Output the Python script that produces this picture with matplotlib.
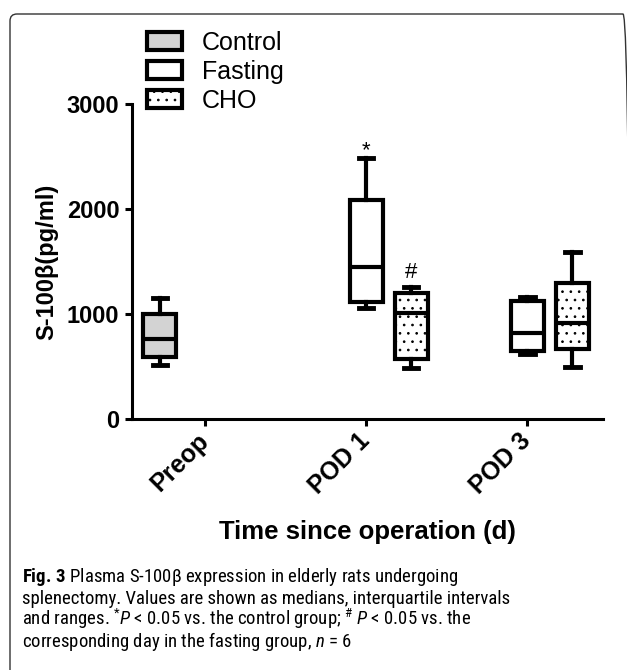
import matplotlib
matplotlib.use('Agg')
import matplotlib.pyplot as plt
from matplotlib.patches import Patch, FancyBboxPatch
from matplotlib import font_manager

# time points on the x axis and treatment groups
timepoints = ['Preop', 'POD 1', 'POD 3']
groups = ['Control', 'Fasting', 'CHO']

# one entry per drawn box (pg/ml)
box_group = ['Control', 'Fasting', 'CHO', 'Fasting', 'CHO']
box_time = [0, 1, 1, 2, 2]
whis_lo = [510, 1055, 485, 615, 495]
q1 = [590, 1110, 570, 645, 665]
med = [760, 1445, 1005, 820, 910]
q3 = [1000, 2090, 1200, 1125, 1300]
whis_hi = [1155, 2490, 1255, 1165, 1590]

# significance marks above boxes
sig_box = [1, 2]
sig_mark = ['*', '#']

caption = [
    r"$\mathbf{Fig.\,3}$ Plasma S-100β expression in elderly rats undergoing",
    "splenectomy. Values are shown as medians, interquartile intervals",
    r"and ranges. $^{*}\mathit{P}$ < 0.05 vs. the control group; $^{\#}$ $\mathit{P}$ < 0.05 vs. the",
    r"corresponding day in the fasting group, $\mathit{n}$ = 6",
]

fill = {'Control': '#d3d3d3', 'Fasting': 'white', 'CHO': 'white'}
hatch = {'Control': None, 'Fasting': None, 'CHO': '..'}
offset = {'Control': -0.28, 'Fasting': 0.0, 'CHO': 0.28}

installed = {f.name for f in font_manager.fontManager.ttflist}
cap_font = next((n for n in ['Liberation Sans Narrow', 'Roboto Condensed', 'Lato'] if n in installed), 'DejaVu Sans')

plt.rcParams['font.family'] = ['Liberation Sans', 'DejaVu Sans']
plt.rcParams['hatch.linewidth'] = 0.7
plt.rcParams['mathtext.fontset'] = 'custom'
plt.rcParams['mathtext.rm'] = cap_font
plt.rcParams['mathtext.it'] = cap_font + ':italic'
plt.rcParams['mathtext.bf'] = cap_font + ':bold'

W, H = 627, 670
fig = plt.figure(figsize=(W / 100, H / 100), dpi=100)
ax = fig.add_axes([132 / W, 1 - 419 / H, 471 / W, 315 / H])

lw = 3
stats = [dict(med=med[i], q1=q1[i], q3=q3[i], whislo=whis_lo[i], whishi=whis_hi[i])
         for i in range(len(med))]
pos = [box_time[i] + offset[box_group[i]] for i in range(len(med))]
bp = ax.bxp(stats, positions=pos, widths=0.205, capwidths=0.09, patch_artist=True,
            showfliers=False,
            boxprops=dict(linewidth=lw, edgecolor='black'),
            medianprops=dict(color='black', linewidth=lw),
            whiskerprops=dict(color='black', linewidth=lw),
            capprops=dict(color='black', linewidth=3.5))
for box, g in zip(bp['boxes'], box_group):
    box.set_facecolor(fill[g])
    if hatch[g]:
        box.set_hatch(hatch[g])

for bi, mark in zip(sig_box, sig_mark):
    dy = 1 if mark == '*' else 7
    ax.annotate(mark, (pos[bi], whis_hi[bi]), xytext=(0, dy), textcoords='offset points',
                ha='center', va='baseline', fontsize=16)

ax.set_xlim(-0.453, 2.47)
ax.set_ylim(0, 3000)
ax.set_yticks([0, 1000, 2000, 3000])
ax.set_xticks(range(len(timepoints)))
ax.set_xticklabels(timepoints, rotation=45, ha='right', va='center', rotation_mode='anchor')
for s in ['top', 'right']:
    ax.spines[s].set_visible(False)
for s in ['left', 'bottom']:
    ax.spines[s].set_linewidth(2.2)
ax.tick_params(width=2.2, length=5, direction='out', pad=4)
ax.tick_params(axis='y', labelsize=17)
ax.tick_params(axis='x', labelsize=18, pad=8)
for lbl in ax.get_xticklabels() + ax.get_yticklabels():
    lbl.set_fontweight('bold')

ax.set_ylabel('S-100β(pg/ml)', fontsize=17, fontweight='bold', labelpad=6)
ax.set_xlabel('Time since operation (d)', fontsize=18.5, fontweight='bold')
ax.xaxis.set_label_coords(0.5, -(532 - 419) / 315)
ax.xaxis.label.set_va('center')

handles = [Patch(facecolor=fill[g], edgecolor='black', hatch=hatch[g], linewidth=lw) for g in groups]
ax.legend(handles, groups, loc='upper left', bbox_to_anchor=(147 / W, 1 - 31 / H),
          bbox_transform=fig.transFigure, frameon=False, fontsize=18,
          handlelength=1.4, handleheight=0.75, handletextpad=0.8, labelspacing=0.2,
          borderpad=0, borderaxespad=0)

for i, line in enumerate(caption):
    fig.text(22 / W, 1 - (582 + 21.7 * i) / H, line, family=cap_font, fontsize=13.5,
             va='baseline', ha='left')

# rounded figure frame, its right and bottom sides fall outside the image
frame = FancyBboxPatch((10, -20), 620, 676, boxstyle='round,pad=0,rounding_size=7',
                       transform=None, facecolor='none', edgecolor='#333333', linewidth=1)
fig.add_artist(frame)

fig.savefig('out.png', dpi=100)
